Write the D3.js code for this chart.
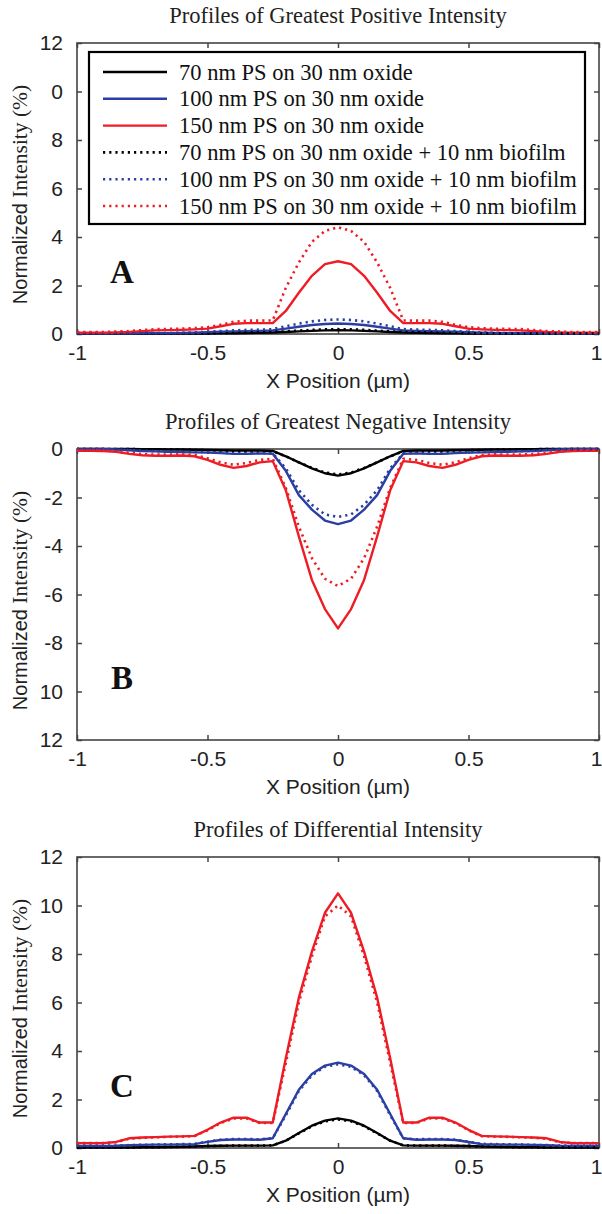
<!DOCTYPE html>
<html>
<head>
<meta charset="utf-8">
<script src="https://cdn.jsdelivr.net/npm/d3@7"></script>
<style>
body { margin: 0; background: #fff; }
svg { display: block; }
</style>
</head>
<body>
<script>
// x positions (um)
var xPos = [-1,-0.95,-0.9,-0.85,-0.8,-0.75,-0.7,-0.65,-0.6,-0.55,-0.5,-0.45,-0.4,-0.35,-0.3,-0.25,-0.2,-0.15,-0.1,-0.05,0,
            0.05,0.1,0.15,0.2,0.25,0.3,0.35,0.4,0.45,0.5,0.55,0.6,0.65,0.7,0.75,0.8,0.85,0.9,0.95,1];

var legendLabels = ["70 nm PS on 30 nm oxide", "100 nm PS on 30 nm oxide", "150 nm PS on 30 nm oxide",
                    "70 nm PS on 30 nm oxide + 10 nm biofilm", "100 nm PS on 30 nm oxide + 10 nm biofilm",
                    "150 nm PS on 30 nm oxide + 10 nm biofilm"];

var xTicks = [-1, -0.5, 0, 0.5, 1];
var xTickLabels = ["-1", "-0.5", "0", "0.5", "1"];
var yTicksPos = [0, 2, 4, 6, 8, 10, 12];
var yTicksNeg = [0, -2, -4, -6, -8, -10, -12];
var yLabelsA = ["0", "2", "4", "6", "8", "0", "12"];
var yLabelsB = ["0", "-2", "-4", "-6", "-8", "10", "12"];
var yLabelsC = ["0", "2", "4", "6", "8", "10", "12"];

// panel A - greatest positive intensity
var blackSolidA = [0.01,0.01,0.01,0.01,0.01,0.01,0.01,0.01,0.02,0.02,0.02,0.03,0.03,0.04,0.05,0.06,0.08,0.11,0.13,0.15,0.16,
                   0.15,0.13,0.11,0.08,0.06,0.05,0.04,0.03,0.03,0.02,0.02,0.02,0.01,0.01,0.01,0.01,0.01,0.01,0.01,0.01];
var blueSolidA = [0.02,0.02,0.02,0.02,0.02,0.03,0.03,0.03,0.04,0.05,0.07,0.09,0.11,0.12,0.13,0.15,0.22,0.3,0.37,0.41,0.43,
                  0.41,0.37,0.3,0.22,0.15,0.13,0.12,0.11,0.09,0.07,0.05,0.04,0.03,0.03,0.03,0.02,0.02,0.02,0.02,0.02];
var redSolidA = [0.05,0.05,0.05,0.06,0.08,0.12,0.15,0.16,0.17,0.19,0.22,0.32,0.42,0.45,0.45,0.45,0.95,1.7,2.4,2.88,3.0,
                 2.88,2.4,1.7,0.95,0.45,0.45,0.45,0.42,0.32,0.22,0.19,0.17,0.16,0.15,0.12,0.08,0.06,0.05,0.05,0.05];
var blackDotA = [0.02,0.02,0.02,0.02,0.02,0.02,0.02,0.02,0.03,0.03,0.03,0.04,0.05,0.06,0.07,0.08,0.11,0.14,0.17,0.19,0.2,
                 0.19,0.17,0.14,0.11,0.08,0.07,0.06,0.05,0.04,0.03,0.03,0.03,0.02,0.02,0.02,0.02,0.02,0.02,0.02,0.02];
var blueDotA = [0.03,0.03,0.03,0.03,0.03,0.04,0.04,0.04,0.05,0.07,0.09,0.12,0.15,0.17,0.18,0.2,0.32,0.43,0.52,0.58,0.6,
                0.58,0.52,0.43,0.32,0.2,0.18,0.17,0.15,0.12,0.09,0.07,0.05,0.04,0.04,0.04,0.03,0.03,0.03,0.03,0.03];
var redDotA = [0.08,0.08,0.08,0.1,0.12,0.16,0.2,0.21,0.22,0.24,0.28,0.38,0.5,0.55,0.55,0.56,1.9,2.95,3.8,4.25,4.4,
               4.25,3.8,2.95,1.9,0.56,0.55,0.55,0.5,0.38,0.28,0.24,0.22,0.21,0.2,0.16,0.12,0.1,0.08,0.08,0.08];

// panel B - greatest negative intensity
var blackSolidB = [0,0,0,0,0,-0.01,-0.01,-0.02,-0.02,-0.03,-0.04,-0.05,-0.06,-0.06,-0.06,-0.08,-0.3,-0.55,-0.8,-1.0,-1.1,
                   -1.0,-0.8,-0.55,-0.3,-0.08,-0.06,-0.06,-0.06,-0.05,-0.04,-0.03,-0.02,-0.02,-0.01,-0.01,0,0,0,0,0];
var blueSolidB = [0,0,0,-0.02,-0.05,-0.08,-0.1,-0.12,-0.13,-0.14,-0.15,-0.17,-0.2,-0.2,-0.18,-0.2,-0.9,-1.9,-2.5,-2.95,-3.1,
                  -2.95,-2.5,-1.9,-0.9,-0.2,-0.18,-0.2,-0.2,-0.17,-0.15,-0.14,-0.13,-0.12,-0.1,-0.08,-0.05,-0.02,0,0,0];
var redSolidB = [-0.07,-0.07,-0.08,-0.12,-0.2,-0.26,-0.28,-0.28,-0.27,-0.3,-0.45,-0.65,-0.78,-0.7,-0.55,-0.5,-1.7,-3.6,-5.4,-6.6,-7.4,
                 -6.6,-5.4,-3.6,-1.7,-0.5,-0.55,-0.7,-0.78,-0.65,-0.45,-0.3,-0.27,-0.28,-0.28,-0.26,-0.2,-0.12,-0.08,-0.07,-0.07];
var blackDotB = [0,0,0,0,0,-0.01,-0.01,-0.02,-0.03,-0.04,-0.05,-0.07,-0.09,-0.1,-0.1,-0.1,-0.3,-0.55,-0.78,-0.97,-1.05,
                 -0.97,-0.78,-0.55,-0.3,-0.1,-0.1,-0.1,-0.09,-0.07,-0.05,-0.04,-0.03,-0.02,-0.01,-0.01,0,0,0,0,0];
var blueDotB = [0,0,0,-0.02,-0.04,-0.07,-0.09,-0.1,-0.11,-0.12,-0.13,-0.15,-0.18,-0.18,-0.16,-0.18,-0.8,-1.7,-2.3,-2.7,-2.8,
                -2.7,-2.3,-1.7,-0.8,-0.18,-0.16,-0.18,-0.18,-0.15,-0.13,-0.12,-0.11,-0.1,-0.09,-0.07,-0.04,-0.02,0,0,0];
var redDotB = [-0.05,-0.05,-0.06,-0.1,-0.16,-0.21,-0.23,-0.23,-0.22,-0.25,-0.38,-0.55,-0.65,-0.58,-0.45,-0.4,-1.6,-3.2,-4.5,-5.35,-5.65,
               -5.35,-4.5,-3.2,-1.6,-0.4,-0.45,-0.58,-0.65,-0.55,-0.38,-0.25,-0.22,-0.23,-0.23,-0.21,-0.16,-0.1,-0.06,-0.05,-0.05];

// panel C - differential intensity
var blackSolidC = [0.02,0.02,0.02,0.02,0.02,0.03,0.03,0.04,0.05,0.06,0.08,0.09,0.1,0.1,0.1,0.11,0.3,0.62,0.92,1.13,1.22,
                   1.13,0.92,0.62,0.3,0.11,0.1,0.1,0.1,0.09,0.08,0.06,0.05,0.04,0.03,0.03,0.02,0.02,0.02,0.02,0.02];
var blueSolidC = [0.08,0.08,0.08,0.09,0.12,0.13,0.14,0.14,0.15,0.16,0.25,0.33,0.35,0.35,0.34,0.4,1.4,2.4,3.05,3.4,3.52,
                  3.4,3.05,2.4,1.4,0.4,0.34,0.35,0.35,0.33,0.25,0.16,0.15,0.14,0.14,0.13,0.12,0.09,0.08,0.08,0.08];
var redSolidC = [0.2,0.2,0.2,0.25,0.4,0.43,0.45,0.47,0.48,0.5,0.75,1.05,1.25,1.25,1.05,1.05,3.7,6.2,8.1,9.7,10.5,
                 9.7,8.1,6.2,3.7,1.05,1.05,1.25,1.25,1.05,0.75,0.5,0.48,0.47,0.45,0.43,0.4,0.25,0.2,0.2,0.2];
var blackDotC = [0.02,0.02,0.02,0.02,0.02,0.03,0.03,0.04,0.05,0.06,0.08,0.09,0.1,0.1,0.1,0.11,0.3,0.6,0.9,1.1,1.18,
                 1.1,0.9,0.6,0.3,0.11,0.1,0.1,0.1,0.09,0.08,0.06,0.05,0.04,0.03,0.03,0.02,0.02,0.02,0.02,0.02];
var blueDotC = [0.1,0.1,0.1,0.1,0.12,0.13,0.14,0.15,0.16,0.17,0.26,0.34,0.37,0.37,0.36,0.4,1.35,2.35,3.0,3.35,3.45,
                3.35,3.0,2.35,1.35,0.4,0.36,0.37,0.37,0.34,0.26,0.17,0.16,0.15,0.14,0.13,0.12,0.1,0.1,0.1,0.1];
var redDotC = [0.2,0.2,0.2,0.24,0.38,0.42,0.44,0.46,0.47,0.49,0.73,1.03,1.22,1.22,1.03,1.03,3.5,6.0,7.9,9.55,10.0,
               9.55,7.9,6.0,3.5,1.03,1.03,1.22,1.22,1.03,0.73,0.49,0.47,0.46,0.44,0.42,0.38,0.24,0.2,0.2,0.2];

var colors = ["#000000", "#2b3ea3", "#ee1c24", "#000000", "#2b3ea3", "#ee1c24"];
var dotted = [false, false, false, true, true, true];

var SANS = "'Liberation Sans', Arial, sans-serif";
var SERIF = "'Liberation Serif', 'Times New Roman', serif";

var svg = d3.select("body").append("svg")
    .attr("width", 602)
    .attr("height", 1214);

var x = d3.scaleLinear().domain([-1, 1]).range([77, 599]);

var panels = [
  { title: "Profiles of Greatest Positive Intensity", top: 43, domain: [0, 12], ticks: yTicksPos, labels: yLabelsA,
    letter: "A", series: [blackSolidA, blueSolidA, redSolidA, blackDotA, blueDotA, redDotA], legend: true },
  { title: "Profiles of Greatest Negative Intensity", top: 449, domain: [-12, 0], ticks: yTicksNeg, labels: yLabelsB,
    letter: "B", series: [blackSolidB, blueSolidB, redSolidB, blackDotB, blueDotB, redDotB], legend: false },
  { title: "Profiles of Differential Intensity", top: 857, domain: [0, 12], ticks: yTicksPos, labels: yLabelsC,
    letter: "C", series: [blackSolidC, blueSolidC, redSolidC, blackDotC, blueDotC, redDotC], legend: false }
];

panels.forEach(function(p) {
  var h = 291;
  var bottom = p.top + h;
  var y = d3.scaleLinear().domain(p.domain).range([bottom, p.top]);
  var g = svg.append("g");

  // axes (ticks point inward, box is drawn separately)
  var gx = g.append("g").attr("transform", "translate(0," + bottom + ")")
      .call(d3.axisBottom(x).tickValues(xTicks).tickFormat(function(d, i) { return xTickLabels[i]; })
            .tickSizeInner(-5).tickSizeOuter(0).tickPadding(11));
  var gy = g.append("g").attr("transform", "translate(" + x(-1) + ",0)")
      .call(d3.axisLeft(y).tickValues(p.ticks).tickFormat(function(d, i) { return p.labels[i]; })
            .tickSizeInner(-5).tickSizeOuter(0).tickPadding(14));
  var gt = g.append("g").attr("transform", "translate(0," + p.top + ")")
      .call(d3.axisTop(x).tickValues(xTicks).tickFormat("").tickSizeInner(-5).tickSizeOuter(0));
  var gr = g.append("g").attr("transform", "translate(" + x(1) + ",0)")
      .call(d3.axisRight(y).tickValues(p.ticks).tickFormat("").tickSizeInner(-5).tickSizeOuter(0));

  [gx, gy, gt, gr].forEach(function(a) {
    a.select(".domain").remove();
    a.selectAll("line").attr("stroke", "#444").attr("stroke-width", 1.5);
    a.selectAll("text").attr("font-family", SANS).attr("font-size", 21).attr("fill", "#222");
  });

  // last x label sits at the page edge: keep it inside
  gx.selectAll(".tick text").filter(function(d) { return d === 1; })
    .attr("text-anchor", "end").attr("dx", 3);

  // plot box
  g.append("rect")
    .attr("x", x(-1)).attr("y", p.top)
    .attr("width", x(1) - x(-1)).attr("height", h)
    .attr("fill", "none").attr("stroke", "#444").attr("stroke-width", 1.6);

  // curves
  var line = d3.line()
      .x(function(d, i) { return x(xPos[i]); })
      .y(function(d) { return y(d); });

  p.series.forEach(function(s, k) {
    g.append("path")
      .attr("d", line(s))
      .attr("fill", "none")
      .attr("stroke", colors[k])
      .attr("stroke-width", dotted[k] ? 2.6 : 2.4)
      .attr("stroke-dasharray", dotted[k] ? "2.2,4" : null)
      .attr("stroke-linejoin", "round");
  });

  // title
  g.append("text")
    .attr("x", x(0)).attr("y", p.top - 20)
    .attr("text-anchor", "middle")
    .attr("font-family", SERIF).attr("font-size", 22.5).attr("fill", "#222")
    .text(p.title);

  // x label
  g.append("text")
    .attr("x", x(0)).attr("y", bottom + 54)
    .attr("text-anchor", "middle")
    .attr("font-family", SANS).attr("font-size", 21).attr("fill", "#222")
    .text("X Position (\u00b5m)");

  // y label - mixed fonts like the original
  var yl = g.append("text")
    .attr("transform", "translate(27," + (p.top + h / 2 + 6) + ") rotate(-90)")
    .attr("text-anchor", "middle")
    .attr("fill", "#222");
  yl.append("tspan").attr("font-family", SANS).attr("font-size", 20).text("Normalized");
  yl.append("tspan").attr("font-family", SERIF).attr("font-size", 21.5).text(" Intensity (%)");

  // panel letter
  g.append("text")
    .attr("x", 122).attr("y", bottom - 51)
    .attr("text-anchor", "middle")
    .attr("font-family", SERIF).attr("font-weight", "bold").attr("font-size", 33).attr("fill", "#111")
    .text(p.letter);

  if (p.legend) {
    var lg = g.append("g");
    lg.append("rect")
      .attr("x", 89).attr("y", 52).attr("width", 496).attr("height", 172)
      .attr("fill", "#fff").attr("stroke", "#000").attr("stroke-width", 2.2);
    legendLabels.forEach(function(lab, k) {
      var ly = 72 + k * 26.8;
      lg.append("line")
        .attr("x1", 103).attr("x2", 167).attr("y1", ly).attr("y2", ly)
        .attr("stroke", colors[k])
        .attr("stroke-width", dotted[k] ? 2.6 : 2.4)
        .attr("stroke-dasharray", dotted[k] ? "2.2,4" : null);
      lg.append("text")
        .attr("x", 179).attr("y", ly + 7.5)
        .attr("font-family", SERIF).attr("font-size", 22.5).attr("fill", "#111")
        .text(lab);
    });
  }
});
</script>
</body>
</html>
